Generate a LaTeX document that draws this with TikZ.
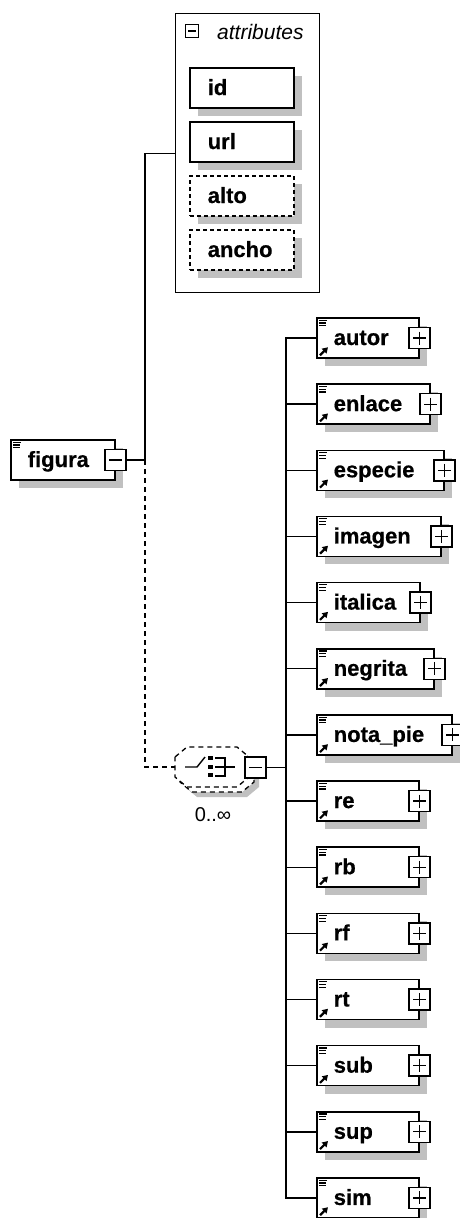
\documentclass[tikz,border=0pt]{standalone}
\usepackage{fontspec}
\setmainfont{Liberation Sans}[BoldFeatures={FakeBold=0.6}]
\usetikzlibrary{shadows,arrows.meta}
\definecolor{shadowgray}{RGB}{192,192,192}
\pgfdeclarelayer{bg}
\pgfsetlayers{bg,main}
\tikzset{
  box/.style={draw, line width=1.5pt, fill=white, rectangle, minimum height=40pt,
    inner ysep=0pt, inner xsep=17pt, align=left,
    font=\fontsize{22}{24}\selectfont\bfseries, text height=19pt, text depth=5pt,
    drop shadow={shadow xshift=8pt, shadow yshift=-8pt, fill=shadowgray, opacity=1, draw=none}},
  optbox/.style={box, dash pattern=on 4pt off 3pt},
  xbox/.style={draw, line width=1.4pt, fill=white, rectangle, minimum size=21pt, inner sep=0pt},
  minusbox/.style={xbox, path picture={
      \draw[line width=1.3pt] ([xshift=4pt]path picture bounding box.west) -- ([xshift=-4pt]path picture bounding box.east);}},
  plusbox/.style={xbox, path picture={
      \draw[line width=1.3pt] ([xshift=4pt]path picture bounding box.west) -- ([xshift=-4pt]path picture bounding box.east);
      \draw[line width=1.3pt] ([yshift=-4pt]path picture bounding box.north) -- ([yshift=4pt]path picture bounding box.south);}},
  smallminus/.style={draw, line width=1.3pt, fill=white, rectangle, minimum size=13pt, inner sep=0pt,
    path picture={\draw[line width=1.2pt] ([xshift=2.5pt]path picture bounding box.west) -- ([xshift=-2.5pt]path picture bounding box.east);}},
  conn/.style={line width=1.4pt},
  dconn/.style={line width=1.4pt, dash pattern=on 5pt off 4pt},
  octo/.style={line width=1.3pt, dash pattern=on 5pt off 4pt},
  icon/.style={line width=1.2pt},
}
\newcommand{\eqicon}[1]{%
  \draw[icon] ([shift={(3pt,-3pt)}]#1.north west) -- ++(8pt,0pt);
  \draw[icon] ([shift={(3pt,-5.8pt)}]#1.north west) -- ++(7pt,0pt);
  \draw[icon] ([shift={(3pt,-8.6pt)}]#1.north west) -- ++(7pt,0pt);}
\newcommand{\reficon}[1]{%
  \draw[line width=2.2pt, -{Triangle[length=5.5pt,width=6.5pt]}] ([shift={(4pt,3.5pt)}]#1.south west) -- ++(8pt,8pt);}
% octagon centred at origin: 74 x 40, chamfer 12 x 10
\newcommand{\octpath}{(-37,-10) -- (-25,-20) -- (25,-20) -- (37,-10) -- (37,10) -- (25,20) -- (-25,20) -- (-37,10) -- cycle}
\begin{document}
\begin{tikzpicture}[x=1pt,y=-1pt]
\useasboundingbox (0,0) rectangle (459,1218);

% attributes container
\node[draw, line width=1.4pt, minimum width=144pt, minimum height=279pt, inner sep=0pt, anchor=north west] (attrs) at (175,13) {};
\node[smallminus] (attrsx) at (192,31) {};
\node[anchor=base west, inner sep=0pt, font=\fontsize{21}{24}\selectfont\itshape] (attrstitle) at (217,39) {attributes};
\node[box, anchor=west, text width=68pt, inner xsep=18pt] (id) at (189,88) {id};
\node[box, anchor=west, text width=68pt, inner xsep=18pt] (url) at (189,142) {url};
\node[optbox, anchor=west, text width=68pt, inner xsep=18pt] (alto) at (189,196) {alto};
\node[optbox, anchor=west, text width=68pt, inner xsep=18pt] (ancho) at (189,250) {ancho};

% root element
\node[box, anchor=west, text width=70pt] (figura) at (10,460) {figura};
\eqicon{figura}
\node[minusbox] (figurax) at (figura.east) {};

% compositor (choice, 0..unbounded)
\node[minimum width=74pt, minimum height=40pt, inner sep=0pt] (comp) at (212,767) {};
\fill[shadowgray, shift={(222,777)}] \octpath;
\draw[octo, fill=white, shift={(217,772)}] \octpath;
\draw[octo, fill=white, shift={(212,767)}] \octpath;
\draw[line width=1.4pt] (185,767) -- (197,767) -- (205,757);
\fill (208,755.5) rectangle (212.5,760);
\fill (208,764.5) rectangle (212.5,769);
\fill (208,772.5) rectangle (212.5,777);
\draw[line width=1.4pt] (215,758) -- (225,758) -- (225,776) -- (215,776);
\draw[line width=1.4pt] (215,767) -- (235,767);
\node[minusbox] (compx) at (255.5,767.5) {};
\node[font=\fontsize{20}{22}\selectfont] (occ) at (213,815) {0..∞};

% connectors
\coordinate (fork) at (145,460);
\coordinate (bus) at (286,767.5);

% children
\foreach \nm/\lab/\tw [count=\i from 0] in {autor/autor/68, enlace/enlace/79, especie/especie/93,
   imagen/imagen/90, italica/italica/69, negrita/negrita/83, notapie/nota\_pie/101,
   re/re/68, rb/rb/68, rf/rf/68, rt/rt/68, sub/sub/68, sup/sup/68, sim/sim/68} {
  \node[box, anchor=west, text width=\tw pt] (\nm) at (316,{338+66.15*\i}) {\lab};
  \eqicon{\nm}
  \reficon{\nm}
  \node[plusbox] (\nm x) at (\nm.east) {};
  \begin{pgfonlayer}{bg}
  \draw[conn] (bus |- \nm.west) -- (\nm.west);
  \end{pgfonlayer}
}

\begin{pgfonlayer}{bg}
\draw[conn] (figurax.east) -- (fork) |- (attrs.west);
\draw[dconn] (fork) |- (comp.west);
\draw[conn] (compx.east) -- (bus);
\draw[conn, line cap=rect] (bus |- autor.west) -- (bus |- sim.west);
\end{pgfonlayer}
\end{tikzpicture}
\end{document}
